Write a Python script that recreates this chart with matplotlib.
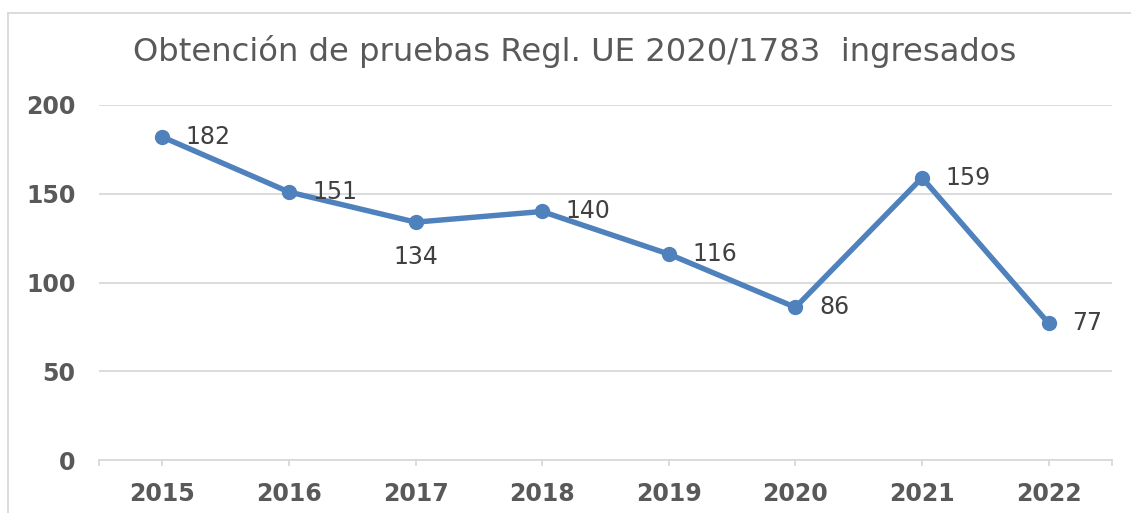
import matplotlib
matplotlib.use("Agg")
import matplotlib.pyplot as plt
from matplotlib.lines import Line2D

years = ["2015", "2016", "2017", "2018", "2019", "2020", "2021", "2022"]
values = [182, 151, 134, 140, 116, 86, 159, 77]
label_below = [False, False, True, False, False, False, False, False]
title = "Obtención de pruebas Regl. UE 2020/1783  ingresados"

plt.rcParams['font.family'] = ['DejaVu Sans']

W, H = 1131, 513
fig = plt.figure(figsize=(W / 100, H / 100), dpi=100)
ax = fig.add_axes([99 / W, 1 - 460 / H, (1112 - 99) / W, (460 - 105) / H])

x = list(range(len(years)))
ax.plot(x, values, color="#4F81BD", lw=3.9, marker="o", ms=10,
        solid_capstyle="round", zorder=3, clip_on=False)

for xi, v, below in zip(x, values, label_below):
    if below:
        ax.annotate(str(v), (xi, v), xytext=(0, -25), textcoords="offset points",
                    ha="center", va="center", fontsize=17, color="#404040")
    else:
        ax.annotate(str(v), (xi, v), xytext=(17, 0), textcoords="offset points",
                    ha="left", va="center", fontsize=17, color="#404040")

ax.set_xlim(-0.5, len(years) - 0.5)
ax.set_ylim(0, 200)
ax.set_yticks([0, 50, 100, 150, 200])
ax.grid(axis="y", color="#D9D9D9", lw=1.3)
ax.set_axisbelow(True)
for s in ["top", "right", "left"]:
    ax.spines[s].set_visible(False)
ax.spines["bottom"].set_color("#D9D9D9")
ax.spines["bottom"].set_linewidth(1.3)

ax.set_xticks(x)
ax.set_xticklabels(years)
ax.set_xticks([-0.5, len(years) - 0.5], minor=True)
ax.tick_params(axis="x", which="both", length=4, width=1.3, color="#D9D9D9",
               labelsize=17, labelcolor="#595959", pad=12)
ax.tick_params(axis="y", length=0, labelsize=17, labelcolor="#595959", pad=17)
for lab in ax.get_xticklabels() + ax.get_yticklabels():
    lab.set_fontweight("bold")

fig.text(575 / W, 1 - 52 / H, title, ha="center", va="center",
         fontsize=23.2, color="#595959")

# chart frame
fig.add_artist(Line2D([8 / W, 8 / W], [0, 1 - 13 / H], transform=fig.transFigure,
                      color="#D9D9D9", lw=1.3))
fig.add_artist(Line2D([8 / W, 1], [1 - 13 / H, 1 - 13 / H], transform=fig.transFigure,
                      color="#D9D9D9", lw=1.3))

fig.savefig("out.png", dpi=100)
